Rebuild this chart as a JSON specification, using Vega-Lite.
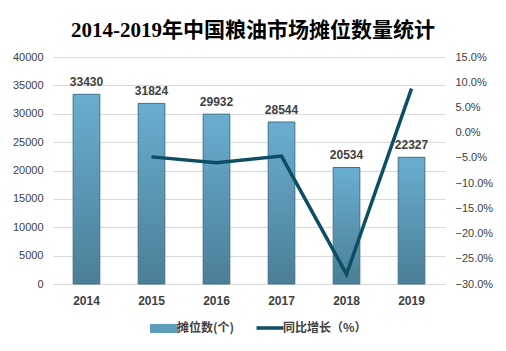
{
  "$schema": "https://vega.github.io/schema/vega-lite/v6.json",
  "width": 392,
  "height": 227,
  "autosize": {"type": "none"},
  "padding": {"left": 53, "top": 57, "right": 61, "bottom": 67},
  "background": "white",
  "title": {
    "text": "2014-2019年中国粮油市场摊位数量统计",
    "fontSize": 21,
    "font": "Liberation Serif, Noto Sans CJK SC",
    "fontWeight": "bold",
    "color": "#000000",
    "offset": 10,
    "anchor": "middle",
    "dx": 4
  },
  "config": {"view": {"stroke": null}},
  "data": {
    "values": [
      {"year": "2014", "count": 33430, "growth": null},
      {"year": "2015", "count": 31824, "growth": -0.048},
      {"year": "2016", "count": 29932, "growth": -0.0595},
      {"year": "2017", "count": 28544, "growth": -0.0464},
      {"year": "2018", "count": 20534, "growth": -0.2806},
      {"year": "2019", "count": 22327, "growth": 0.0873}
    ]
  },
  "encoding": {
    "x": {
      "field": "year",
      "type": "nominal",
      "scale": {"paddingInner": 0.59, "paddingOuter": 0.31},
      "axis": {
        "title": null,
        "labelAngle": 0,
        "domain": true,
        "domainColor": "#d9d9d9",
        "ticks": false,
        "labelFont": "Liberation Sans",
        "labelFontWeight": "bold",
        "labelFontSize": 12,
        "labelPadding": 11,
        "labelColor": "#404040"
      }
    }
  },
  "layer": [
    {
      "mark": {
        "type": "bar",
        "fill": {
          "gradient": "linear",
          "x1": 0, "y1": 0, "x2": 0, "y2": 1,
          "stops": [
            {"offset": 0, "color": "#6aaecf"},
            {"offset": 1, "color": "#4b7e97"}
          ]
        },
        "stroke": "#41708a",
        "strokeWidth": 1
      },
      "encoding": {
        "y": {
          "field": "count",
          "type": "quantitative",
          "scale": {"domain": [0, 40000]},
          "axis": {
            "title": null,
            "values": [0, 5000, 10000, 15000, 20000, 25000, 30000, 35000, 40000],
            "format": "d",
            "grid": true,
            "gridColor": "#d9d9d9",
            "domain": false,
            "ticks": false,
            "labelPadding": 10,
            "labelFont": "Liberation Sans",
            "labelFontSize": 11,
            "labelColor": "#404040"
          }
        }
      }
    },
    {
      "mark": {
        "type": "text",
        "baseline": "bottom",
        "dy": -5,
        "font": "Liberation Sans",
        "fontSize": 12,
        "fontWeight": "bold",
        "color": "#404040"
      },
      "encoding": {
        "y": {
          "field": "count",
          "type": "quantitative",
          "scale": {"domain": [0, 40000]},
          "axis": null
        },
        "text": {"field": "count", "type": "quantitative", "format": "d"}
      }
    },
    {
      "transform": [{"filter": "datum.growth != null"}],
      "mark": {"type": "line", "strokeWidth": 3.5},
      "encoding": {
        "y": {
          "field": "growth",
          "type": "quantitative",
          "scale": {"domain": [-0.3, 0.15]},
          "axis": {
            "orient": "right",
            "title": null,
            "values": [-0.3, -0.25, -0.2, -0.15, -0.1, -0.05, 0, 0.05, 0.1, 0.15],
            "format": ".1%",
            "grid": false,
            "domain": false,
            "ticks": false,
            "labelPadding": 10,
            "labelFont": "Liberation Sans",
            "labelFontSize": 11,
            "labelColor": "#404040"
          }
        },
        "color": {
          "datum": "同比增长（%）",
          "scale": {
            "domain": ["摊位数(个)", "同比增长（%）"],
            "range": ["#5b9dbb", "#0c4f65"]
          },
          "legend": {
            "title": null,
            "orient": "none",
            "legendX": 105,
            "legendY": 265,
            "direction": "horizontal",
            "columnPadding": 14,
            "labelOffset": 7,
            "symbolSize": 729,
            "symbolStrokeWidth": 3.5,
            "labelFont": "Noto Sans CJK SC",
            "labelFontSize": 12,
            "labelFontWeight": "bold",
            "labelColor": "#404040",
            "encode": {
              "symbols": {
                "update": {
                  "shape": {"signal": "datum.value === '摊位数(个)' ? 'M-1,-0.3H1V0.3H-1Z' : 'stroke'"},
                  "fill": {"signal": "datum.value === '摊位数(个)' ? '#5b9dbb' : 'transparent'"},
                  "stroke": {"signal": "datum.value === '摊位数(个)' ? '#41708a' : '#0c4f65'"},
                  "strokeWidth": {"signal": "datum.value === '摊位数(个)' ? 1 : 3.5"},
                  "strokeCap": {"value": "butt"}
                }
              }
            }
          }
        }
      }
    }
  ],
  "resolve": {"scale": {"y": "independent"}}
}
